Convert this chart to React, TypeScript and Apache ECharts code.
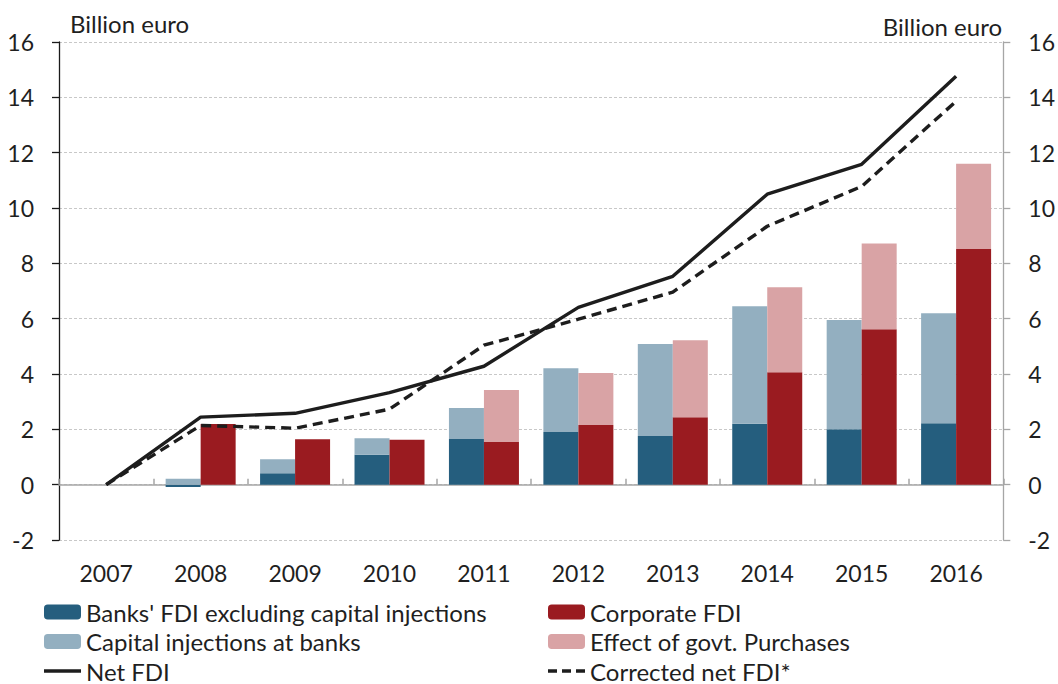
import React, { useEffect, useRef } from "react";
import * as echarts from "echarts";

const years = ["2007", "2008", "2009", "2010", "2011", "2012", "2013", "2014", "2015", "2016"];
const banksFdi = [null, -0.08, 0.41, 1.08, 1.65, 1.9, 1.76, 2.2, 2.0, 2.22];
const capitalInjections = [null, 0.21, 0.51, 0.6, 1.12, 2.31, 3.32, 4.25, 3.95, 3.98];
const corporateFdi = [null, 2.19, 1.64, 1.62, 1.54, 2.16, 2.44, 4.06, 5.62, 8.52];
const govtPurchases = [null, 0, 0, 0, 1.88, 1.88, 2.78, 3.08, 3.1, 3.08];
const netFdi = [0, 2.44, 2.58, 3.33, 4.28, 6.41, 7.53, 10.5, 11.58, 14.76];
const correctedNetFdi = [0, 2.14, 2.04, 2.73, 5.04, 5.98, 6.96, 9.34, 10.78, 13.86];
const yTicks = { min: -2, max: 16, interval: 2 };

const FONT = "Lato";
const FS = 24;
const FS_AX = 23;
const TXT = "#1f1f1f";
const LINE_C = "#1d1d1d";

const solidIcon = "path://M0,0H37V3.4H0Z";
const dashIcon = "path://M0,0H9V3.4H0Z M14,0H23V3.4H14Z M28,0H37V3.4H28Z";

export default function App() {
  const ref = useRef<HTMLDivElement>(null);
  useEffect(() => {
    const chart = echarts.init(ref.current!, null, { renderer: "svg" });
    const legendText = { fontFamily: FONT, fontSize: FS, color: TXT };
    const legendBase = {
      orient: "vertical",
      top: 600,
      height: 100,
      width: 480,
      padding: 0,
      itemWidth: 37,
      itemHeight: 15,
      itemGap: 5.5,
      textStyle: legendText,
    };
    chart.setOption({
      animation: false,
      textStyle: { fontFamily: FONT },
      grid: { left: 59, right: 51, top: 42, bottom: 144, containLabel: false },
      graphic: [
        { type: "text", left: 70, top: 11, style: { text: "Billion euro", fontFamily: FONT, fontSize: FS, fill: TXT } },
        { type: "text", right: 56, top: 14, style: { text: "Billion euro", fontFamily: FONT, fontSize: FS, fill: TXT } },
      ],
      legend: [
        {
          ...legendBase,
          left: 44,
          data: [
            { name: "Banks' FDI excluding capital injections" },
            { name: "Capital injections at banks" },
            { name: "Net FDI", icon: solidIcon },
          ],
        },
        {
          ...legendBase,
          left: 548,
          data: [
            { name: "Corporate FDI" },
            { name: "Effect of govt. Purchases" },
            { name: "Corrected net FDI*", icon: dashIcon },
          ],
        },
      ],
      xAxis: [
        {
          type: "category",
          data: years,
          position: "bottom",
          axisLine: { show: false, onZero: false },
          axisTick: { show: false },
          axisLabel: { fontFamily: FONT, fontSize: FS_AX, color: TXT, margin: 21 },
        },
        {
          type: "category",
          data: years,
          position: "bottom",
          axisLine: { show: true, onZero: true, lineStyle: { color: "#a6a6a6", width: 1.5 } },
          axisTick: { show: true, inside: true, length: 6, lineStyle: { color: "#a6a6a6", width: 1.5 } },
          axisLabel: { show: false },
        },
      ],
      yAxis: [
        {
          type: "value",
          ...yTicks,
          position: "left",
          axisLine: { show: true, lineStyle: { color: "#1a1a1a", width: 1.3 } },
          axisTick: { show: true, length: 7, lineStyle: { color: "#1a1a1a", width: 1.3 } },
          axisLabel: { fontFamily: FONT, fontSize: FS_AX, color: TXT, margin: 25 },
          splitLine: { show: true, lineStyle: { color: "#c8c8c8", type: [3, 2], width: 1 } },
        },
        {
          type: "value",
          ...yTicks,
          position: "right",
          axisLine: { show: true, lineStyle: { color: "#a6a6a6", width: 1.3 } },
          axisTick: { show: true, length: 7, lineStyle: { color: "#a6a6a6", width: 1.3 } },
          axisLabel: { fontFamily: FONT, fontSize: FS_AX, color: TXT, margin: 25 },
          splitLine: { show: false },
        },
      ],
      series: [
        {
          name: "Banks' FDI excluding capital injections",
          type: "bar",
          stack: "banks",
          data: banksFdi,
          barWidth: 35,
          barGap: "0%",
          itemStyle: { color: "#255e7e" },
        },
        {
          name: "Capital injections at banks",
          type: "bar",
          stack: "banks",
          data: capitalInjections,
          barWidth: 35,
          barGap: "0%",
          itemStyle: { color: "#93afc0" },
        },
        {
          name: "Corporate FDI",
          type: "bar",
          stack: "corp",
          data: corporateFdi,
          barWidth: 35,
          barGap: "0%",
          itemStyle: { color: "#9a1b20" },
        },
        {
          name: "Effect of govt. Purchases",
          type: "bar",
          stack: "corp",
          data: govtPurchases,
          barWidth: 35,
          barGap: "0%",
          itemStyle: { color: "#d9a3a5" },
        },
        {
          name: "Net FDI",
          type: "line",
          data: netFdi,
          symbol: "none",
          z: 5,
          lineStyle: { color: LINE_C, width: 3.4 },
          itemStyle: { color: LINE_C },
        },
        {
          name: "Corrected net FDI*",
          type: "line",
          data: correctedNetFdi,
          symbol: "none",
          z: 5,
          lineStyle: { color: LINE_C, width: 3.4, type: [10, 6] },
          itemStyle: { color: LINE_C },
        },
      ],
    });
    return () => chart.dispose();
  }, []);
  return <div ref={ref} style={{ width: 1058, height: 684, position: "absolute", left: 0, top: 0 }} />;
}
